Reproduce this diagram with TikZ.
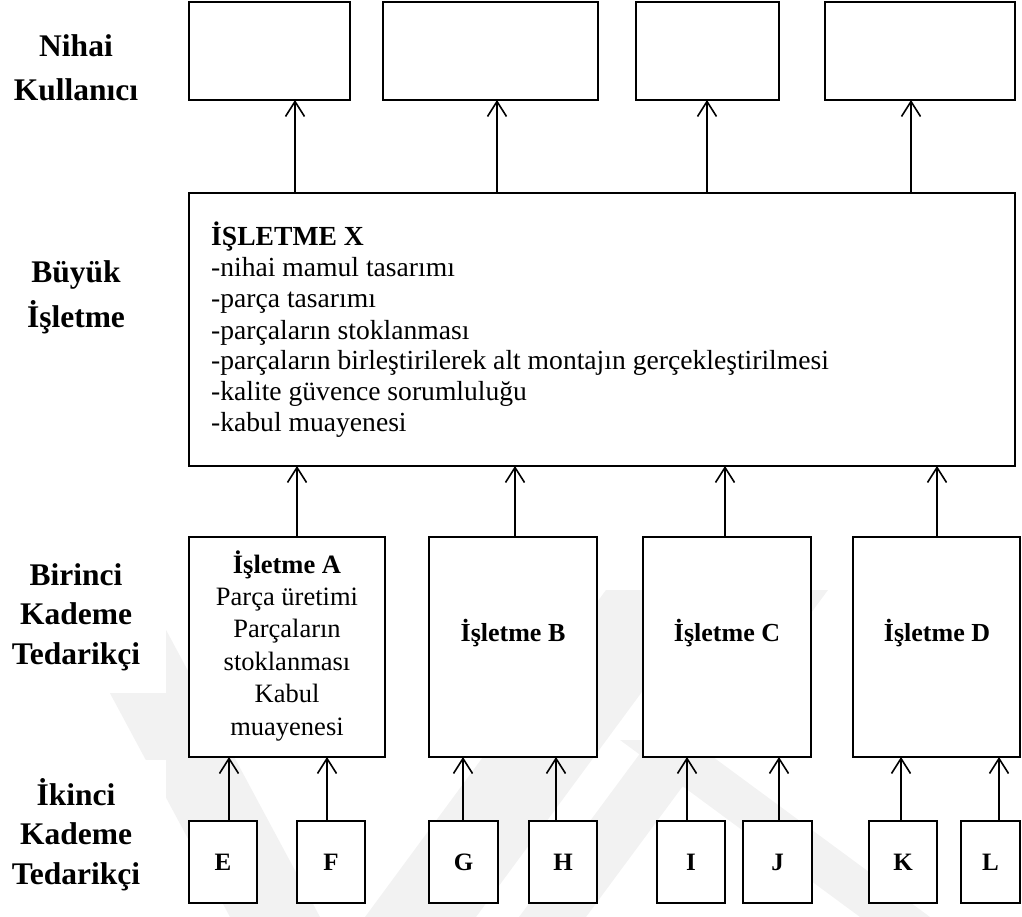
\documentclass[tikz,border=0pt]{standalone}
\usepackage{fontspec}
\setmainfont{Liberation Serif}
\usetikzlibrary{arrows.meta}

% multi-line cell whose baseline is that of its first line
\newcommand{\stack}[2]{\begin{tabular}[t]{@{}#1@{}}#2\end{tabular}}

\begin{document}
\begin{tikzpicture}[x=1pt,y=-1pt,
  box/.style={draw=black, line width=2.6pt, fill=white, rectangle,
              inner sep=0pt, outer sep=0pt, anchor=north west},
  arr/.style={line width=1.6pt, -{Straight Barb[length=15pt,width=19pt]}},
  lbl/.style={font=\fontsize{31.5}{39.5}\selectfont\bfseries, anchor=base, inner sep=0pt},
  lbltop/.style={lbl, font=\fontsize{31.5}{44}\selectfont\bfseries},
  body/.style={font=\fontsize{26.5}{32.4}\selectfont, anchor=base, inner sep=0pt},
  firm/.style={font=\fontsize{26}{30}\selectfont\bfseries, anchor=base, inner sep=0pt},
  letter/.style={font=\fontsize{25}{30}\selectfont\bfseries},
  wm/.style={fill=black!5, draw=none}]

\useasboundingbox (0,0) rectangle (1022,917);

% faint background watermark
\fill[wm] (606,590) -- (717,590) -- (476,917) -- (365,917) -- cycle;
\fill[wm] (761,590) -- (828,590) -- (586,917) -- (519,917) -- cycle;
\fill[wm] (60,600) -- (150,600) -- (320,917) -- (230,917) -- cycle;
\fill[wm] (620,740) -- (690,740) -- (930,917) -- (860,917) -- cycle;

% white panels behind the tier labels
\fill[white] (0,555) rectangle (166,693);
\fill[white] (0,760) rectangle (166,906);

% tier labels
\node[lbltop] (lNihai) at (76,57) {\stack{c}{Nihai\\Kullanıcı}};
\node[lbltop] (lBuyuk) at (76,283) {\stack{c}{Büyük\\İşletme}};
\node[lbl] (lBirinci) at (76,585) {\stack{c}{Birinci\\Kademe\\Tedarikçi}};
\node[lbl] (lIkinci) at (76,805) {\stack{c}{İkinci\\Kademe\\Tedarikçi}};

% end users
\node[box, minimum width=161pt, minimum height=98pt] (T1) at (189,2) {};
\node[box, minimum width=215pt, minimum height=98pt] (T2) at (383,2) {};
\node[box, minimum width=143pt, minimum height=98pt] (T3) at (636,2) {};
\node[box, minimum width=190pt, minimum height=98pt] (T4) at (825,2) {};

% main company
\node[box, minimum width=826pt, minimum height=273pt] (X) at (189,193) {};
\node[anchor=base west, inner sep=0pt, font=\fontsize{27.6}{31}\selectfont] (Xtxt) at (211,246)
  {\stack{l}{\textbf{İŞLETME X}\\
   -nihai mamul tasarımı\\
   -parça tasarımı\\
   -parçaların stoklanması\\
   -parçaların birleştirilerek alt montajın gerçekleştirilmesi\\
   -kalite güvence sorumluluğu\\
   -kabul muayenesi}};

% first tier suppliers
\node[box, minimum width=196pt, minimum height=220pt] (A) at (189,537) {};
\node[box, minimum width=168pt, minimum height=220pt] (B) at (429,537) {};
\node[box, minimum width=168pt, minimum height=220pt] (C) at (643,537) {};
\node[box, minimum width=167pt, minimum height=220pt] (D) at (853,537) {};
\node[body] (Atxt) at (287,573) {\stack{c}{\textbf{İşletme A}\\Parça üretimi\\Parçaların\\stoklanması\\Kabul\\muayenesi}};
\node[firm] (Btxt) at (513,641) {İşletme B};
\node[firm] (Ctxt) at (727,641) {İşletme C};
\node[firm] (Dtxt) at (937,641) {İşletme D};

% second tier suppliers
\node[box, letter, minimum width=68pt, minimum height=82pt] (E) at (189,821) {E};
\node[box, letter, minimum width=68pt, minimum height=82pt] (F) at (297,821) {F};
\node[box, letter, minimum width=69pt, minimum height=82pt] (G) at (429,821) {G};
\node[box, letter, minimum width=68pt, minimum height=82pt] (H) at (529,821) {H};
\node[box, letter, minimum width=68pt, minimum height=82pt] (I) at (657,821) {I};
\node[box, letter, minimum width=69pt, minimum height=82pt] (J) at (743,821) {J};
\node[box, letter, minimum width=68pt, minimum height=82pt] (K) at (869,821) {K};
\node[box, letter, minimum width=59pt, minimum height=82pt] (L) at (961,821) {L};

% x positions of the connectors
\coordinate (t1) at (295,0);  \coordinate (t2) at (497,0);
\coordinate (t3) at (707,0);  \coordinate (t4) at (911,0);
\coordinate (m1) at (297,0);  \coordinate (m2) at (515,0);
\coordinate (m3) at (725,0);  \coordinate (m4) at (937,0);
\coordinate (sE) at (229,0);  \coordinate (sF) at (327,0);
\coordinate (sG) at (463,0);  \coordinate (sH) at (556,0);
\coordinate (sI) at (687,0);  \coordinate (sJ) at (779,0);
\coordinate (sK) at (901,0);  \coordinate (sL) at (999,0);

% flows upward
\draw[arr] (X.north -| t1) -- (T1.south -| t1);
\draw[arr] (X.north -| t2) -- (T2.south -| t2);
\draw[arr] (X.north -| t3) -- (T3.south -| t3);
\draw[arr] (X.north -| t4) -- (T4.south -| t4);

\draw[arr] (A.north -| m1) -- (X.south -| m1);
\draw[arr] (B.north -| m2) -- (X.south -| m2);
\draw[arr] (C.north -| m3) -- (X.south -| m3);
\draw[arr] (D.north -| m4) -- (X.south -| m4);

\draw[arr] (E.north -| sE) -- (A.south -| sE);
\draw[arr] (F.north -| sF) -- (A.south -| sF);
\draw[arr] (G.north -| sG) -- (B.south -| sG);
\draw[arr] (H.north -| sH) -- (B.south -| sH);
\draw[arr] (I.north -| sI) -- (C.south -| sI);
\draw[arr] (J.north -| sJ) -- (C.south -| sJ);
\draw[arr] (K.north -| sK) -- (D.south -| sK);
\draw[arr] (L.north -| sL) -- (D.south -| sL);
\end{tikzpicture}
\end{document}
